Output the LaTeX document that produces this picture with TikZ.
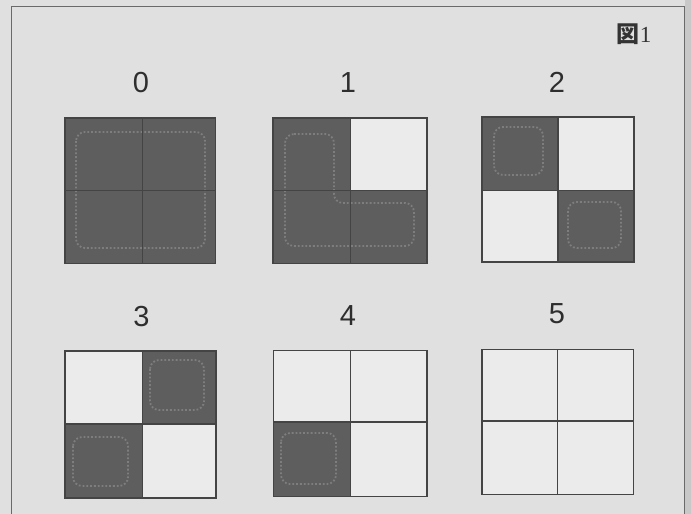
\documentclass[tikz,border=0pt]{standalone}
\usepackage{fontspec}
\setmainfont{Liberation Sans}
\newfontfamily\jpfont{Noto Sans CJK JP}
\newfontfamily\serifnum{Liberation Serif}
\definecolor{bgc}{HTML}{E0E0E0}
\definecolor{cellc}{HTML}{EBEBEB}
\definecolor{darkc}{HTML}{5E5E5E}
\definecolor{haloc}{HTML}{7E7E7E}
\definecolor{linec}{HTML}{444444}
\definecolor{framec}{HTML}{6A6A6A}
\definecolor{edgec}{HTML}{C8C8C8}
\tikzset{
  lbl/.style={font=\fontsize{29}{29}\selectfont, text=black!82, inner sep=0pt},
  grid/.style={draw=linec, line width=1.2pt},
  darkcell/.style={fill=darkc},
  lightcell/.style={fill=cellc},
  halo/.style={draw=haloc, line width=1.8pt, dotted, rounded corners=9pt},
  framel/.style={draw=framec, line width=1pt}
}
\begin{document}
\begin{tikzpicture}[x=1pt,y=-1pt]
\useasboundingbox (0,0) rectangle (691,514);
\fill[bgc] (0,0) rectangle (691,514);
\fill[edgec] (685,0) rectangle (691,514);
% frame
\draw[framel] (11,520) -- (11,6) -- (684,6) -- (684,520);
\node[inner sep=0pt, anchor=center, text=black!80] (fig) at (634,34) {\fontsize{23}{23}\selectfont\jpfont\bfseries 図\serifnum\mdseries 1};

% labels
\node[lbl] (l0) at (141,83) {0};
\node[lbl] (l1) at (348,83) {1};
\node[lbl] (l2) at (557,82) {2};
\node[lbl] (l3) at (141.5,317) {3};
\node[lbl] (l4) at (348,316) {4};
\node[lbl] (l5) at (557,314) {5};

% box 0 : all dark
\fill[darkcell] (65,118) rectangle (215.5,263.5);
\draw[halo] (76,132) rectangle (205,248);
\draw[grid] (65,118) rectangle (215.5,263.5);
\draw[grid] (142.5,118) -- (142.5,263.5) (65,190.7) -- (215.5,190.7);

% box 1 : three dark (L)
\fill[lightcell] (273,118) rectangle (427,263.5);
\fill[darkcell] (273,118) rectangle (350.5,263.5);
\fill[darkcell] (350.5,190.7) rectangle (427,263.5);
\draw[halo] (285,134) -- (334,134) -- (334,203) -- (414,203) -- (414,246) -- (285,246) -- cycle;
\draw[grid] (273,118) rectangle (427,263.5);
\draw[grid] (350.5,118) -- (350.5,263.5) (273,190.7) -- (427,190.7);

% box 2 : diagonal
\fill[lightcell] (482,117) rectangle (634,262);
\fill[darkcell] (482,117) rectangle (558,190.7);
\fill[darkcell] (558,190.7) rectangle (634,262);
\draw[halo] (494,127) rectangle (543,175);
\draw[halo] (568,202) rectangle (621,248);
\draw[grid] (482,117) rectangle (634,262);
\draw[grid] (558,117) -- (558,262) (482,190.7) -- (634,190.7);

% box 3 : anti-diagonal
\fill[lightcell] (65,351) rectangle (216,498);
\fill[darkcell] (142.3,351) rectangle (216,424);
\fill[darkcell] (65,424) rectangle (142.3,498);
\draw[halo] (150,360) rectangle (204,410);
\draw[halo] (73,437) rectangle (128,486);
\draw[grid] (65,351) rectangle (216,498);
\draw[grid] (142.3,351) -- (142.3,498) (65,424) -- (216,424);

% box 4 : bottom-left dark
\fill[lightcell] (273.5,350.5) rectangle (427,496.5);
\fill[darkcell] (273.5,422) rectangle (350.7,496.5);
\draw[halo] (281,433) rectangle (336,484);
\draw[grid] (273.5,350.5) rectangle (427,496.5);
\draw[grid] (350.7,350.5) -- (350.7,496.5) (273.5,422) -- (427,422);

% box 5 : all light
\fill[lightcell] (482,349.5) rectangle (633.5,494.5);
\draw[grid] (482,349.5) rectangle (633.5,494.5);
\draw[grid] (557.5,349.5) -- (557.5,494.5) (482,421) -- (633.5,421);
\end{tikzpicture}
\end{document}
